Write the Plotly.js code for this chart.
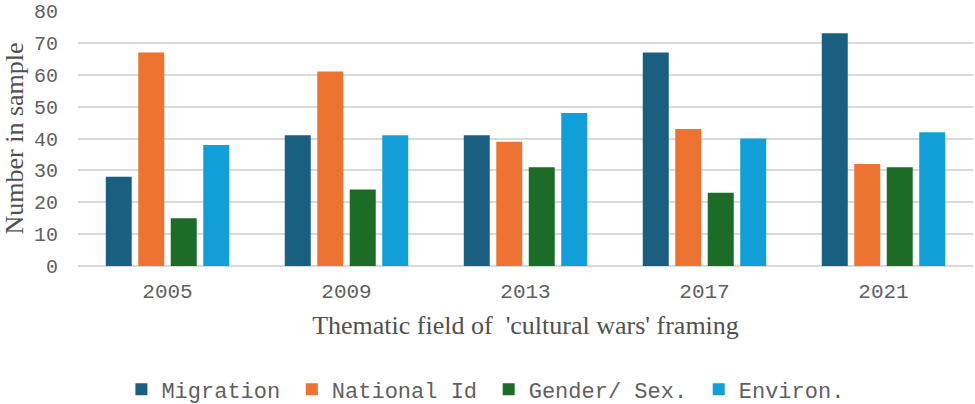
<!DOCTYPE html>
<html>
<head>
<meta charset="utf-8">
<script src="https://cdn.plot.ly/plotly-3.0.1.min.js"></script>
<style>
  html, body { margin: 0; padding: 0; background: #fff; }
  #chart { width: 975px; height: 404px; }
</style>
</head>
<body>
<div id="chart"></div>
<script>
// survey years on the x axis
const years = ['2005', '2009', '2013', '2017', '2021'];

const migration = [28, 41, 41, 67, 73];
const nationalId = [67, 61, 39, 43, 32];
const genderSex = [15, 24, 31, 23, 31];
const environ = [38, 41, 48, 40, 42];

const seriesNames = ['Migration', 'National Id', 'Gender/ Sex.', 'Environ.'];
const seriesColors = ['#1a5e80', '#ec7331', '#1c6b27', '#129fd7'];

const yTicks = [0, 10, 20, 30, 40, 50, 60, 70, 80];

const mono = 'Liberation Mono, Courier New, monospace';
const serif = 'Liberation Serif, Times New Roman, serif';

// a small trailing no-break space widens the gap between legend entries
const pad = '<span style="font-size:11px">\u00a0</span>';

const data = [migration, nationalId, genderSex, environ].map((vals, i) => ({
  type: 'bar',
  name: seriesNames[i] + (i < 3 ? pad : ''),
  x: years,
  y: vals,
  marker: { color: seriesColors[i] },
  hoverinfo: 'x+y'
}));

const layout = {
  width: 975,
  height: 404,
  margin: { l: 78, r: 2, t: 11, b: 138, autoexpand: false },
  paper_bgcolor: '#fff',
  plot_bgcolor: '#fff',
  barmode: 'group',
  bargap: 0.274,
  bargroupgap: 0.2,
  showlegend: true,
  legend: {
    orientation: 'h',
    xref: 'paper',
    x: 0.0485,
    xanchor: 'left',
    yref: 'container',
    y: 0.036,
    yanchor: 'middle',
    font: { family: mono, size: 22, color: '#5f5f5f' },
    itemwidth: 30,
    traceorder: 'normal'
  },
  xaxis: {
    type: 'category',
    showgrid: false,
    showline: false,
    zeroline: false,
    ticks: '',
    ticklabelstandoff: 10,
    tickfont: { family: mono, size: 21, color: '#5f5f5f' },
    title: {
      text: "Thematic field of  'cultural wars' framing",
      font: { family: serif, size: 26, color: '#505050' },
      standoff: 12
    }
  },
  yaxis: {
    range: [0, 80],
    tickvals: yTicks,
    ticktext: yTicks.map(String),
    showgrid: true,
    gridcolor: '#d9d9d9',
    gridwidth: 2,
    zeroline: true,
    zerolinecolor: '#d9d9d9',
    zerolinewidth: 2,
    showline: false,
    ticks: '',
    ticklabelstandoff: 19,
    tickfont: { family: mono, size: 20, color: '#5f5f5f' },
    title: {
      text: 'Number in sample',
      font: { family: serif, size: 26, color: '#505050' },
      standoff: 4
    }
  }
};

Plotly.newPlot('chart', data, layout, { displayModeBar: false, staticPlot: true });
</script>
</body>
</html>
